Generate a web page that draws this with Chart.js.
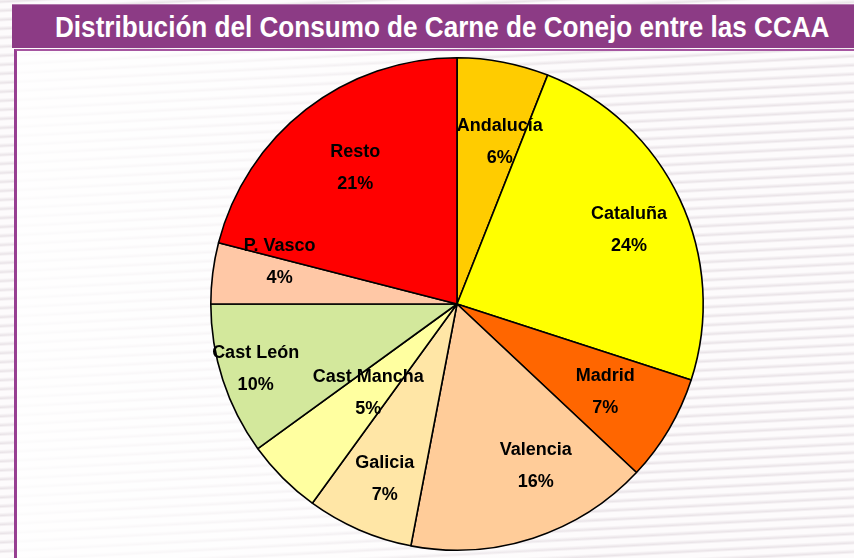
<!DOCTYPE html>
<html>
<head>
<meta charset="utf-8">
<script src="https://cdn.jsdelivr.net/npm/chart.js@4.4.1/dist/chart.umd.min.js"></script>
<style>
  html, body { margin: 0; padding: 0; }
  body {
    width: 854px; height: 558px; overflow: hidden; position: relative;
    background-color: #fdfbfc;
    background-image: repeating-linear-gradient(-3deg, rgba(255,255,255,0) 0px, rgba(255,255,255,0) 4px, rgba(215,205,212,0.5) 6px, rgba(255,255,255,0) 9px);
  }
  #title {
    position: absolute; left: 12px; top: 4px; width: 842px; height: 43px;
    background: #8c3b85; border-top: 1px solid #b27aad;
    color: #fff; text-align: center; white-space: nowrap;
  }
  #title span {
    display: inline-block; font-family: "Liberation Sans", sans-serif;
    font-weight: bold; font-size: 29px; line-height: 45px;
    transform: scaleX(0.9); transform-origin: center;
  }
  #box {
    position: absolute; left: 14px; top: 49px; width: 840px; height: 509px;
    border-left: 3px solid #973f91; border-top: 2px solid #a655a0;
    background: linear-gradient(90deg, rgba(255,255,255,0.85) 0%, rgba(255,255,255,0.6) 30%, rgba(255,255,255,0) 70%);
  }
  #wrap { position: absolute; left: 0; top: 0; width: 854px; height: 558px; }
</style>
</head>
<body>
<div id="title"><span>Distribución del Consumo de Carne de Conejo entre las CCAA</span></div>
<div id="box"></div>
<div id="wrap"><canvas id="myChart"></canvas></div>
<script>
const regions = ["Andalucía", "Cataluña", "Madrid", "Valencia", "Galicia", "Cast Mancha", "Cast León", "P. Vasco", "Resto"];
const shares = [6, 24, 7, 16, 7, 5, 10, 4, 21];
const sliceColors = ["#ffcc00", "#ffff00", "#ff6600", "#ffcc99", "#ffe6a6", "#ffffa0", "#d3e89c", "#ffc8a6", "#ff0000"];
// label placement: share of the radius, and a small turn in degrees
const labelDist = [0.68, 0.76, 0.70, 0.73, 0.77, 0.51, 0.86, 0.74, 0.69];
const labelTurn = [4, 2, 0, -8, -1, 0, 0, 6, 1];

const sliceLabels = {
  id: "sliceLabels",
  afterDatasetsDraw(chart) {
    const ctx = chart.ctx;
    const arcs = chart.getDatasetMeta(0).data;
    ctx.save();
    ctx.font = "bold 18px 'Liberation Sans'";
    ctx.fillStyle = "#000";
    ctx.textAlign = "center";
    ctx.textBaseline = "middle";
    arcs.forEach((arc, i) => {
      const mid = (arc.startAngle + arc.endAngle) / 2 + labelTurn[i] * Math.PI / 180;
      const r = arc.outerRadius * labelDist[i];
      const x = arc.x + Math.cos(mid) * r;
      const y = arc.y + Math.sin(mid) * r;
      ctx.fillText(regions[i], x, y - 16);
      ctx.fillText(shares[i] + "%", x, y + 16);
    });
    ctx.restore();
  }
};

new Chart("myChart", {
  type: "pie",
  data: {
    labels: regions,
    datasets: [{
      data: shares,
      backgroundColor: sliceColors,
      borderColor: "#000",
      borderWidth: 1.6
    }]
  },
  options: {
    responsive: true,
    maintainAspectRatio: false,
    animation: false,
    layout: { padding: { left: 209, right: 149, top: 57, bottom: 7 } },
    plugins: {
      legend: { display: false },
      tooltip: { enabled: false }
    }
  },
  plugins: [sliceLabels]
});
</script>
</body>
</html>
